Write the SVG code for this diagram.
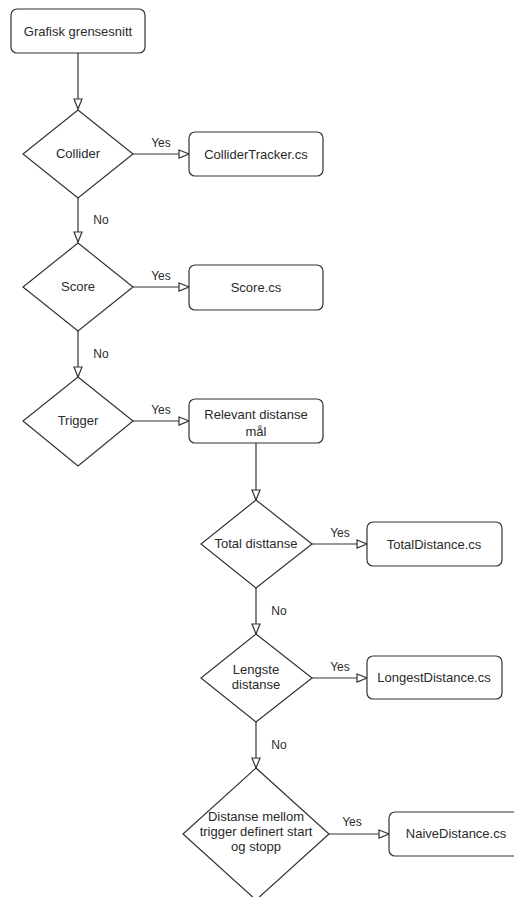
<svg xmlns="http://www.w3.org/2000/svg" width="514" height="897" viewBox="0 0 514 897">
  <style>
    .shape { fill: #ffffff; stroke: #333333; stroke-width: 1.2; }
    .edge { fill: none; stroke: #333333; stroke-width: 1.2; }
    .txt { font-family: "Liberation Sans", Arial, sans-serif; font-size: 13px; fill: #2a2a2a; text-anchor: middle; }
    .lbl { font-family: "Liberation Sans", Arial, sans-serif; font-size: 12px; fill: #2a2a2a; text-anchor: middle; }
  </style>
  <defs>
    <marker id="open-block" markerUnits="userSpaceOnUse" markerWidth="12" markerHeight="10" refX="11" refY="5" orient="auto">
      <path d="M1,1 L11,5 L1,9 Z" fill="#ffffff" stroke="#333333" stroke-width="1.2"/>
    </marker>
  </defs>
  <rect width="514" height="897" fill="#ffffff"/>

  <!-- connectors -->
  <g id="edges">
    <path class="edge" d="M78,53 V109" marker-end="url(#open-block)"/>
    <path class="edge" d="M133,154 H189" marker-end="url(#open-block)"/>
    <text class="lbl" x="161" y="147">Yes</text>
    <path class="edge" d="M78,198 V242" marker-end="url(#open-block)"/>
    <text class="lbl" x="101" y="224">No</text>
    <path class="edge" d="M133,287 H189" marker-end="url(#open-block)"/>
    <text class="lbl" x="161" y="280">Yes</text>
    <path class="edge" d="M78,331 V377" marker-end="url(#open-block)"/>
    <text class="lbl" x="101" y="358">No</text>
    <path class="edge" d="M133,421 H189" marker-end="url(#open-block)"/>
    <text class="lbl" x="161" y="414">Yes</text>
    <path class="edge" d="M256,443 V500" marker-end="url(#open-block)"/>
    <path class="edge" d="M312,544 H367" marker-end="url(#open-block)"/>
    <text class="lbl" x="340" y="537">Yes</text>
    <path class="edge" d="M256,588 V634" marker-end="url(#open-block)"/>
    <text class="lbl" x="279" y="615">No</text>
    <path class="edge" d="M312,678 H367" marker-end="url(#open-block)"/>
    <text class="lbl" x="340" y="671">Yes</text>
    <path class="edge" d="M256,722 V768" marker-end="url(#open-block)"/>
    <text class="lbl" x="279" y="749">No</text>
    <path class="edge" d="M329,834 H389" marker-end="url(#open-block)"/>
    <text class="lbl" x="352" y="826">Yes</text>
  </g>

  <g id="grafisk">
    <rect class="shape" x="11" y="9" width="134" height="44" rx="6"/>
    <text class="txt" x="78" y="36">Grafisk grensesnitt</text>
  </g>

  <g id="collider">
    <path class="shape" d="M78,110 L133,154 L78,198 L23,154 Z"/>
    <text class="txt" x="78" y="158">Collider</text>
  </g>
  <g id="collidertracker">
    <rect class="shape" x="189" y="132" width="134" height="44" rx="6"/>
    <text class="txt" x="256" y="159">ColliderTracker.cs</text>
  </g>

  <g id="score">
    <path class="shape" d="M78,243 L133,287 L78,331 L23,287 Z"/>
    <text class="txt" x="78" y="291">Score</text>
  </g>
  <g id="scorecs">
    <rect class="shape" x="189" y="265" width="134" height="45" rx="6"/>
    <text class="txt" x="256" y="292">Score.cs</text>
  </g>

  <g id="trigger">
    <path class="shape" d="M78,377 L133,421 L78,466 L23,421 Z"/>
    <text class="txt" x="78" y="425">Trigger</text>
  </g>
  <g id="relevant">
    <rect class="shape" x="189" y="399" width="134" height="44" rx="6"/>
    <text class="txt" x="256" y="419">Relevant distanse</text>
    <text class="txt" x="256" y="436">mål</text>
  </g>

  <g id="total">
    <path class="shape" d="M256,500 L312,544 L256,588 L201,544 Z"/>
    <text class="txt" x="256" y="548">Total disttanse</text>
  </g>
  <g id="totaldistance">
    <rect class="shape" x="367" y="522" width="135" height="44" rx="6"/>
    <text class="txt" x="434" y="549">TotalDistance.cs</text>
  </g>

  <g id="lengste">
    <path class="shape" d="M256,634 L312,678 L256,722 L201,678 Z"/>
    <text class="txt" x="256" y="674">Lengste</text>
    <text class="txt" x="256" y="689">distanse</text>
  </g>
  <g id="longestdistance">
    <rect class="shape" x="367" y="656" width="135" height="43" rx="6"/>
    <text class="txt" x="434" y="682">LongestDistance.cs</text>
  </g>

  <g id="mellom">
    <path class="shape" d="M256,768 L329,834 L256,900 L183,834 Z"/>
    <text class="txt" x="256" y="821">Distanse mellom</text>
    <text class="txt" x="256" y="836">trigger definert start</text>
    <text class="txt" x="256" y="851">og stopp</text>
  </g>
  <g id="naivedistance">
    <rect class="shape" x="389" y="812" width="134" height="44" rx="6"/>
    <text class="txt" x="456" y="838">NaiveDistance.cs</text>
  </g>
</svg>
